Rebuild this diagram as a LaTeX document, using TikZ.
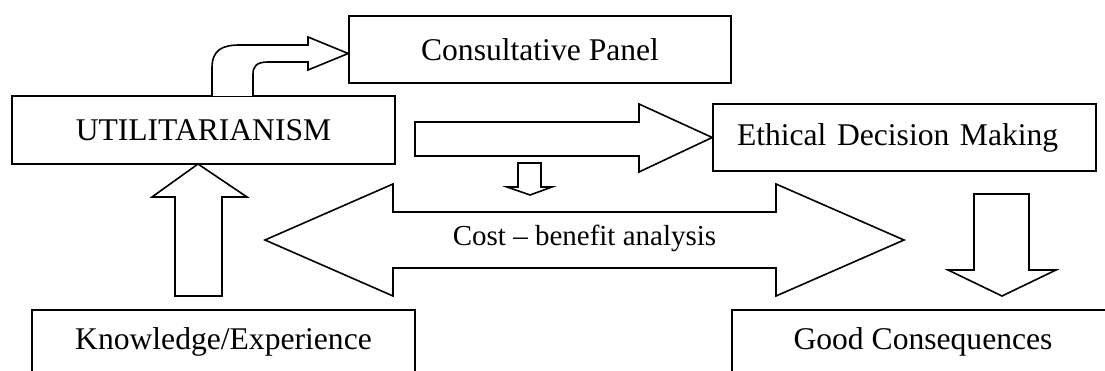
\documentclass[tikz,border=0pt]{standalone}
\usepackage{fontspec}
\setmainfont{Liberation Serif}
\begin{document}
\begin{tikzpicture}[x=1pt,y=-1pt,
  line width=1.6pt, line join=miter,
  box/.style={draw, fill=white, rectangle, inner sep=0pt, font=\fontsize{31.6}{38}\selectfont},
  blockarrow/.style={draw, fill=white}]
\useasboundingbox (0,0) rectangle (1105,371);
% boxes
\node[box, minimum width=383pt, minimum height=68pt] (util) at (203.5,130) {UTILITARIANISM};
\node[box, minimum width=382pt, minimum height=67pt] (cons) at (540,49.5) {Consultative Panel};
\node[box, minimum height=67pt, text width=335pt, align=left, inner xsep=24pt] (eth) at (904.5,137.5) {Ethical Decision Making};
\node[box, minimum width=383pt, minimum height=64pt] (know) at (223.5,342) {Knowledge/Experience};
\node[box, minimum width=382pt, minimum height=64pt] (good) at (923,342) {Good Consequences};
% bent arrow from UTILITARIANISM to Consultative Panel
\draw[blockarrow] (212,96) -- (212,68) .. controls (212,50) and (222,45) .. (240,45)
  -- (308,45) -- (308,37) -- (cons.west |- 0,53.5) -- (308,70) -- (308,62)
  -- (268,62) .. controls (257,62) and (253,66) .. (253,74) -- (253,96);
% big arrow to Ethical Decision Making
\draw[blockarrow] (415,122) -- (639,122) -- (639,104) -- (eth.west) -- (639,172)
  -- (639,156) -- (415,156) -- cycle;
% small down arrow
\draw[blockarrow] (518,163) -- (541,163) -- (541,187) -- (552,187) -- (530,195)
  -- (507,187) -- (518,187) -- cycle;
% double arrow with label
\draw[blockarrow] (265,240) -- (393,184) -- (393,212) -- (776,212) -- (776,184)
  -- (904,240) -- (776,296) -- (776,268) -- (393,268) -- (393,296) -- cycle;
\node[font=\fontsize{29}{34}\selectfont, inner sep=0pt] (cba) at (584.5,238) {Cost – benefit analysis};
% down arrow to Good Consequences
\draw[blockarrow] (974,194) -- (1029,194) -- (1029,270) -- (1056,270) -- (1002,296)
  -- (948,270) -- (974,270) -- cycle;
% up arrow from Knowledge/Experience to UTILITARIANISM
\draw[blockarrow] (175,296) -- (175,197) -- (152,197) -- (198,164) -- (247,197)
  -- (222,197) -- (222,296) -- cycle;
\end{tikzpicture}
\end{document}
